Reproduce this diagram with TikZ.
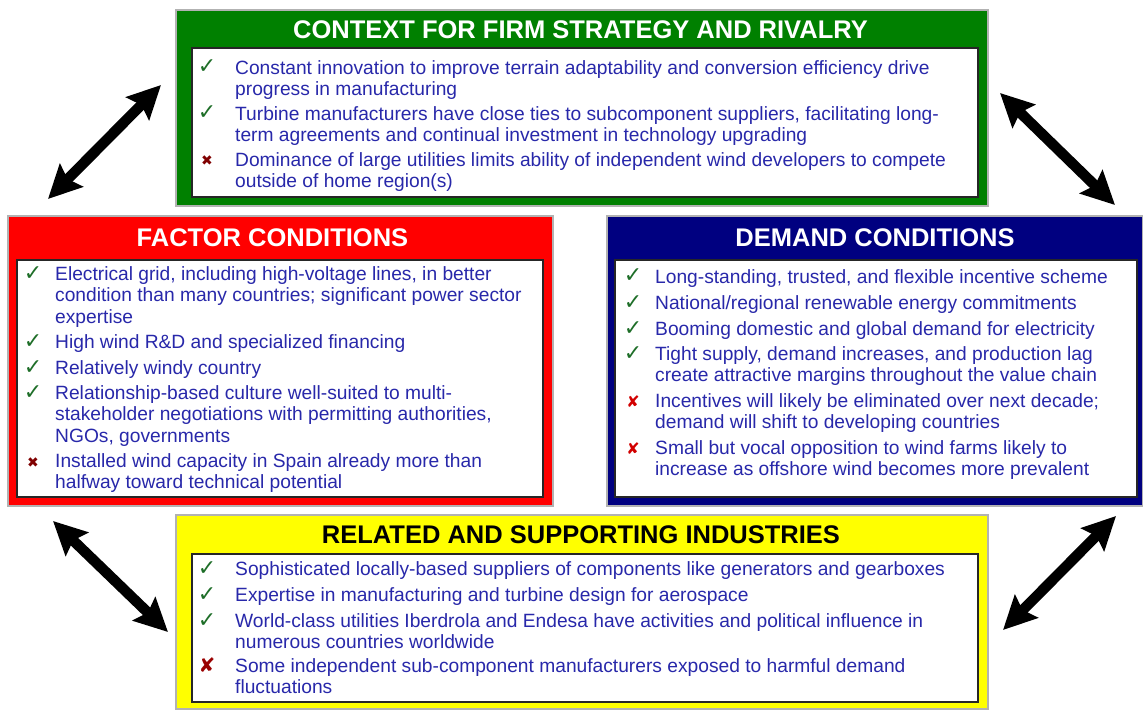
\documentclass[tikz,border=0pt]{standalone}
\usepackage{fontspec}
\setmainfont{Liberation Sans}
\newfontfamily\markfont{DejaVu Sans}
\usetikzlibrary{arrows.meta}
\definecolor{ctxgreen}{RGB}{0,128,0}
\definecolor{facred}{RGB}{255,0,0}
\definecolor{demblue}{RGB}{0,0,128}
\definecolor{relyellow}{RGB}{255,255,0}
\definecolor{txtblue}{RGB}{40,40,170}
\definecolor{okgreen}{RGB}{30,110,40}
\definecolor{nored}{RGB}{128,0,0}
\definecolor{nobright}{RGB}{210,0,0}
\newcommand{\itmfont}{\fontsize{19.2}{21.5}\selectfont}
\newcommand{\ttlfont}{\fontsize{25.5}{28}\selectfont\bfseries}
\tikzset{
  panel/.style={draw=gray!60, line width=1.5pt, fill=#1, inner sep=0pt},
  inbox/.style={draw=black!85, line width=1.2pt, fill=white, inner sep=0pt},
  ttl/.style={font=\ttlfont, text=#1, inner sep=0pt},
  itm/.style={anchor=north west, yshift=15.05pt, inner sep=0pt, align=left,
              font=\itmfont, text=txtblue},
  okmark/.style={anchor=base, inner sep=0pt, text=okgreen,
                 font=\markfont\fontsize{22}{22}\selectfont},
  xmark/.style={anchor=base, inner sep=0pt, text=#1,
                font=\markfont\fontsize{14}{14}\selectfont},
  dbl/.style={{Stealth[length=33pt,width=32pt,inset=5pt]}-{Stealth[length=33pt,width=32pt,inset=5pt]},
              line width=10.5pt}
}
\begin{document}
\begin{tikzpicture}[x=1pt, y=-1pt]
  \useasboundingbox (0,0) rectangle (1143,711);
  % the four panels
  \node[panel=ctxgreen, minimum width=812pt, minimum height=196pt] (ctx) at (582,108) {};
  \node[panel=facred, minimum width=545pt, minimum height=290pt] (fac) at (280.5,361) {};
  \node[panel=demblue, minimum width=536pt, minimum height=290pt] (dem) at (875,361) {};
  \node[panel=relyellow, minimum width=812pt, minimum height=194pt] (rel) at (582,612) {};
  \node[inbox, minimum width=786pt, minimum height=149pt] (ctxb) at (585,122.5) {};
  \node[inbox, minimum width=526pt, minimum height=237pt] (facb) at (280,378.5) {};
  \node[inbox, minimum width=522pt, minimum height=237pt] (demb) at (876,378.5) {};
  \node[inbox, minimum width=786pt, minimum height=148pt] (relb) at (585,628) {};
  \node[ttl=white] (ctxt) at (580.5,30) {CONTEXT FOR FIRM STRATEGY AND RIVALRY};
  \node[ttl=white] (fact) at (272.5,238) {FACTOR CONDITIONS};
  \node[ttl=white] (demt) at (875,238) {DEMAND CONDITIONS};
  \node[ttl=black] (relt) at (581,535) {RELATED AND SUPPORTING INDUSTRIES};

  % context for firm strategy and rivalry
  \node[okmark] (c1m) at (207,74) {✓};
  \node[itm] (c1) at (235,74) {\strut Constant innovation to improve terrain adaptability and conversion efficiency drive\\progress in manufacturing};
  \node[okmark] (c2m) at (207,120) {✓};
  \node[itm] (c2) at (235,120) {\strut Turbine manufacturers have close ties to subcomponent suppliers, facilitating long-\\term agreements and continual investment in technology upgrading};
  \node[xmark=nored] (c3m) at (207,166) {✖};
  \node[itm] (c3) at (235,166) {\strut Dominance of large utilities limits ability of independent wind developers to compete\\outside of home region(s)};

  % factor conditions
  \node[okmark] (f1m) at (33,280) {✓};
  \node[itm] (f1) at (55,280) {\strut Electrical grid, including high-voltage lines, in better\\condition than many countries; significant power sector\\expertise};
  \node[okmark] (f2m) at (33,348) {✓};
  \node[itm] (f2) at (55,348) {\strut High wind R\&D and specialized financing};
  \node[okmark] (f3m) at (33,374) {✓};
  \node[itm] (f3) at (55,374) {\strut Relatively windy country};
  \node[okmark] (f4m) at (33,399) {✓};
  \node[itm] (f4) at (55,399) {\strut Relationship-based culture well-suited to multi-\\stakeholder negotiations with permitting authorities,\\NGOs, governments};
  \node[xmark=nored] (f5m) at (33,467) {✖};
  \node[itm] (f5) at (55,467) {\strut Installed wind capacity in Spain already more than\\halfway toward technical potential};

  % demand conditions
  \node[okmark] (d1m) at (633,283) {✓};
  \node[itm] (d1) at (655,283) {\strut Long-standing, trusted, and flexible incentive scheme};
  \node[okmark] (d2m) at (633,309) {✓};
  \node[itm] (d2) at (655,309) {\strut National/regional renewable energy commitments};
  \node[okmark] (d3m) at (633,335) {✓};
  \node[itm] (d3) at (655,335) {\strut Booming domestic and global demand for electricity};
  \node[okmark] (d4m) at (633,360) {✓};
  \node[itm] (d4) at (655,360) {\strut Tight supply, demand increases, and production lag\\create attractive margins throughout the value chain};
  \node[xmark=nobright, font=\markfont\fontsize{16}{16}\selectfont] (d5m) at (633,407) {✘};
  \node[itm] (d5) at (655,407) {\strut Incentives will likely be eliminated over next decade;\\demand will shift to developing countries};
  \node[xmark=nobright, font=\markfont\fontsize{16}{16}\selectfont] (d6m) at (633,454) {✘};
  \node[itm] (d6) at (655,454) {\strut Small but vocal opposition to wind farms likely to\\increase as offshore wind becomes more prevalent};

  % related and supporting industries
  \node[okmark] (r1m) at (207,575) {✓};
  \node[itm] (r1) at (235,575) {\strut Sophisticated locally-based suppliers of components like generators and gearboxes};
  \node[okmark] (r2m) at (207,601) {✓};
  \node[itm] (r2) at (235,601) {\strut Expertise in manufacturing and turbine design for aerospace};
  \node[okmark] (r3m) at (207,627) {✓};
  \node[itm] (r3) at (235,627) {\strut World-class utilities Iberdrola and Endesa have activities and political influence in\\numerous countries worldwide};
  \node[xmark=nored!80!red, font=\markfont\fontsize{20}{20}\selectfont] (r4m) at (207,672) {✘};
  \node[itm] (r4) at (235,672) {\strut Some independent sub-component manufacturers exposed to harmful demand\\fluctuations};

  % arrows between the panels
  \coordinate (tla) at (48,199);   \coordinate (tlb) at (161,85);
  \coordinate (tra) at (1000,93);  \coordinate (trb) at (1115,205);
  \coordinate (bla) at (53,521);   \coordinate (blb) at (168,632);
  \coordinate (bra) at (1116,516); \coordinate (brb) at (1003,630);
  \draw[dbl] (tla) -- (tlb);
  \draw[dbl] (tra) -- (trb);
  \draw[dbl] (bla) -- (blb);
  \draw[dbl] (bra) -- (brb);
\end{tikzpicture}
\end{document}
